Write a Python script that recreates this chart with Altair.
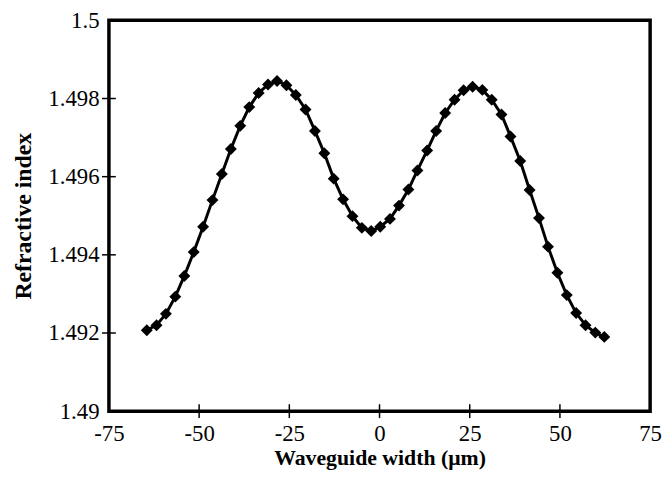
import altair as alt
import pandas as pd

width_um = [-64.5, -61.8, -59.2, -56.6, -54.1, -51.5, -48.9, -46.3, -43.7, -41.2,
            -38.6, -36.1, -33.5, -30.9, -28.4, -25.8, -23.2, -20.5, -17.9, -15.3,
            -12.7, -10.1, -7.5, -4.9, -2.3, 0.2, 2.9, 5.4, 8.0, 10.5,
            13.2, 15.7, 18.2, 20.8, 23.3, 25.8, 28.5, 31.1, 33.8, 36.3,
            39.0, 41.6, 44.2, 46.7, 49.3, 51.9, 54.5, 57.1, 59.8, 62.3]
refr_index = [1.49207, 1.49220, 1.49249, 1.49293, 1.49346, 1.49407, 1.49472, 1.49540, 1.49607, 1.49671,
              1.49730, 1.49778, 1.49814, 1.49836, 1.49845, 1.49834, 1.49809, 1.49772, 1.49717, 1.49660,
              1.49595, 1.49542, 1.49499, 1.49469, 1.49461, 1.49472, 1.49492, 1.49526, 1.49567, 1.49616,
              1.49667, 1.49717, 1.49763, 1.49797, 1.49821, 1.49830, 1.49822, 1.49797, 1.49759, 1.49703,
              1.49640, 1.49566, 1.49494, 1.49421, 1.49354, 1.49297, 1.49251, 1.49220, 1.49201, 1.49190]

x_ticks = [-75, -50, -25, 0, 25, 50, 75]
y_ticks = [1.49, 1.492, 1.494, 1.496, 1.498, 1.5]
x_inner = [-50, -25, 0, 25, 50]
y_inner = [1.492, 1.494, 1.496, 1.498]

df = pd.DataFrame({"w": width_um, "n": refr_index})
W, H = 547, 395
FONT = "Liberation Serif"

xs = alt.Scale(domain=[-75, 75], nice=False, zero=False)
ys = alt.Scale(domain=[1.49, 1.5], nice=False, zero=False)

xax = alt.Axis(values=x_ticks, labelExpr="toString(datum.value)", tickSize=0, domain=False,
               grid=False, labelFont=FONT, labelFontSize=23, labelColor="black", labelPadding=12,
               title="Waveguide width (μm)", titleFont=FONT, titleFontSize=22, titleFontWeight="bold",
               titleColor="black", titlePadding=2, labelFlush=False)
yax = alt.Axis(values=y_ticks, labelExpr="toString(datum.value)", tickSize=0, domain=False,
               grid=False, labelFont=FONT, labelFontSize=23, labelColor="black", labelPadding=10,
               title="Refractive index", titleFont=FONT, titleFontSize=24, titleFontWeight="bold",
               titleColor="black", titlePadding=12, labelFlush=False)

line = alt.Chart(df).mark_line(color="black", strokeWidth=3).encode(
    x=alt.X("w:Q", scale=xs, axis=xax),
    y=alt.Y("n:Q", scale=ys, axis=yax),
)
pts = alt.Chart(df).mark_point(shape="diamond", filled=True, color="black", size=145, opacity=1).encode(
    x=alt.X("w:Q", scale=xs),
    y=alt.Y("n:Q", scale=ys),
)
xt = alt.Chart(pd.DataFrame({"v": x_inner})).mark_tick(
    color="black", thickness=1.5, size=14, orient="vertical", opacity=1).encode(
    x=alt.X("v:Q", scale=xs), y=alt.value(H))
yt = alt.Chart(pd.DataFrame({"v": y_inner})).mark_tick(
    color="black", thickness=1.5, size=14, orient="horizontal", opacity=1).encode(
    y=alt.Y("v:Q", scale=ys), x=alt.value(0))

chart = alt.layer(line, pts, xt, yt).properties(
    width=W, height=H,
    autosize=alt.AutoSizeParams(type="none"),
    padding={"left": 102, "top": 10, "right": 12, "bottom": 58},
).configure(background="white").configure_view(stroke="black", strokeWidth=3.5)

chart.save("out.html", embed_options={"renderer": "svg", "actions": False})
